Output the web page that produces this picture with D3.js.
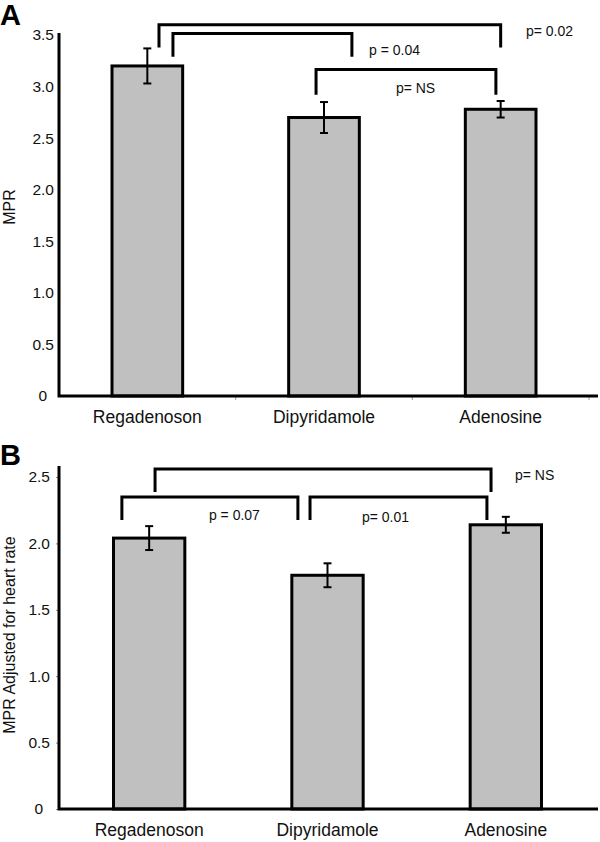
<!DOCTYPE html>
<html>
<head>
<meta charset="utf-8">
<script src="https://cdn.jsdelivr.net/npm/d3@7"></script>
<style>
  html, body { margin: 0; padding: 0; background: #fff; }
  svg { display: block; font-family: "Liberation Sans", Arial, sans-serif; }
</style>
</head>
<body>
<svg id="chart" width="600" height="842"></svg>
<script>
// ---------- DATA ----------
const categories = ["Regadenoson", "Dipyridamole", "Adenosine"];

// Panel A: MPR
const mprValues = [3.20, 2.70, 2.78];
const mprErrors = [0.17, 0.15, 0.08];
const mprTicks = [0, 0.5, 1.0, 1.5, 2.0, 2.5, 3.0, 3.5];
// brackets: [from category pos, to category pos, top value, leg-bottom value]
const mprBrackets = [
  [0.066, 2.000, 3.60, 3.38],
  [0.145, 1.158, 3.515, 3.29],
  [0.955, 1.973, 3.165, 2.92]
];
// p labels: [category pos (left), value, text]
const mprLabels = [
  [2.143, 3.54, "p= 0.02"],
  [1.255, 3.355, "p = 0.04"],
  [1.407, 2.986, "p= NS"]
];

// Panel B: MPR adjusted for heart rate
const hrValues = [2.04, 1.76, 2.14];
const hrErrors = [0.09, 0.09, 0.06];
const hrTicks = [0, 0.5, 1.0, 1.5, 2.0, 2.5];
const hrBrackets = [
  [0.033, 1.917, 2.56, 2.387],
  [-0.153, 0.834, 2.35, 2.176],
  [0.902, 1.894, 2.35, 2.176]
];
const hrLabels = [
  [0.335, 2.214, "p = 0.07"],
  [1.193, 2.199, "p= 0.01"],
  [2.051, 2.515, "p= NS"]
];

// ---------- DRAW ----------
const svg = d3.select("#chart");

function panel(cfg) {
  const g = svg.append("g");
  const x = d3.scaleBand().domain(categories).range(cfg.xRange).padding(0);
  const y = d3.scaleLinear().domain([0, cfg.yMax]).range(cfg.yRange);
  const bw = x.bandwidth();
  const barW = bw * 0.4;
  // continuous category-position scale (index -> band center)
  const xc = d3.scaleLinear().domain([0, 1])
    .range([x(categories[0]) + bw / 2, x(categories[1]) + bw / 2]);

  // bars
  g.selectAll("rect.bar").data(cfg.values).join("rect")
    .attr("class", "bar")
    .attr("x", (d, i) => x(categories[i]) + (bw - barW) / 2)
    .attr("y", d => y(d))
    .attr("width", barW)
    .attr("height", d => y(0) - y(d))
    .attr("fill", "#c0c0c0")
    .attr("stroke", "#000")
    .attr("stroke-width", 3);

  // error bars
  const eb = g.selectAll("g.err").data(cfg.values).join("g").attr("class", "err");
  eb.append("line")
    .attr("x1", (d, i) => x(categories[i]) + bw / 2)
    .attr("x2", (d, i) => x(categories[i]) + bw / 2)
    .attr("y1", (d, i) => y(d + cfg.errors[i]))
    .attr("y2", (d, i) => y(d - cfg.errors[i]))
    .attr("stroke", "#000").attr("stroke-width", 2);
  [1, -1].forEach(s => {
    eb.append("line")
      .attr("x1", (d, i) => x(categories[i]) + bw / 2 - 4)
      .attr("x2", (d, i) => x(categories[i]) + bw / 2 + 4)
      .attr("y1", (d, i) => y(d + s * cfg.errors[i]))
      .attr("y2", (d, i) => y(d + s * cfg.errors[i]))
      .attr("stroke", "#000").attr("stroke-width", 2);
  });

  // y axis (no domain; custom thick line)
  const yAxis = d3.axisLeft(y).tickValues(cfg.ticks)
    .tickSize(cfg.yTickSize).tickPadding(cfg.yTickPad)
    .tickFormat(d => d === 0 ? "0" : d3.format(".1f")(d));
  const ya = g.append("g").attr("transform", `translate(${cfg.xRange[0] - cfg.axisShift},0)`).call(yAxis);
  ya.select(".domain").remove();
  ya.selectAll(".tick line").attr("stroke", "#888").attr("stroke-width", 1);
  ya.selectAll(".tick text")
    .attr("font-size", 15.5).attr("fill", "#111")
    .attr("font-family", "'Liberation Sans', Arial, sans-serif")
    .attr("dx", d => d === 0 ? -7 : 0);

  // x axis ticks (category boundaries)
  if (cfg.xTicks) {
    g.selectAll("line.xt").data(categories).join("line")
      .attr("x1", d => x(d) + bw).attr("x2", d => x(d) + bw)
      .attr("y1", y(0)).attr("y2", y(0) + 4)
      .attr("stroke", "#999").attr("stroke-width", 1);
  }

  // axis lines
  const ax0 = cfg.xRange[0] - cfg.axisShift;
  g.append("path")
    .attr("d", `M${ax0},${cfg.axisTop}V${y(0)}H${cfg.axisRight}`)
    .attr("fill", "none").attr("stroke", "#000").attr("stroke-width", 3);

  // category labels
  g.selectAll("text.cat").data(categories).join("text")
    .attr("class", "cat")
    .attr("x", d => x(d) + bw / 2)
    .attr("y", cfg.catY)
    .attr("text-anchor", "middle")
    .attr("font-size", 17.5)
    .attr("fill", "#111")
    .text(d => d);

  // brackets
  g.selectAll("path.br").data(cfg.brackets).join("path")
    .attr("class", "br")
    .attr("d", b => `M${xc(b[0])},${y(b[3])}V${y(b[2])}H${xc(b[1])}V${y(b[3])}`)
    .attr("fill", "none").attr("stroke", "#000").attr("stroke-width", 3);

  // p labels
  g.selectAll("text.pl").data(cfg.labels).join("text")
    .attr("class", "pl")
    .attr("x", l => xc(l[0]))
    .attr("y", l => y(l[1]))
    .attr("dy", "0.35em")
    .attr("font-size", 14)
    .attr("fill", "#111")
    .text(l => l[2]);

  // y title
  g.append("text")
    .attr("transform", `translate(${cfg.titleX},${cfg.titleY}) rotate(-90)`)
    .attr("text-anchor", "middle")
    .attr("font-size", 16)
    .attr("fill", "#111")
    .text(cfg.title);

  // panel letter
  g.append("text")
    .attr("x", 0).attr("y", cfg.letterY)
    .attr("font-size", 29).attr("font-weight", "bold")
    .attr("fill", "#000")
    .text(cfg.letter);
}

panel({
  values: mprValues, errors: mprErrors, ticks: mprTicks, yMax: 3.5,
  brackets: mprBrackets, labels: mprLabels,
  xRange: [59, 589], axisShift: 0, yRange: [396, 35], axisTop: 33, axisRight: 598,
  yTickSize: 0, yTickPad: 5, xTicks: true,
  catY: 423, title: "MPR", titleX: 15, titleY: 207, letter: "A", letterY: 25
});

panel({
  values: hrValues, errors: hrErrors, ticks: hrTicks, yMax: 2.5,
  brackets: hrBrackets, labels: hrLabels,
  xRange: [60, 595], axisShift: 1, yRange: [809, 477], axisTop: 466, axisRight: 598,
  yTickSize: 3, yTickPad: 6, xTicks: false,
  catY: 836, title: "MPR Adjusted for heart rate", titleX: 15, titleY: 635, letter: "B", letterY: 465
});
</script>
</body>
</html>
